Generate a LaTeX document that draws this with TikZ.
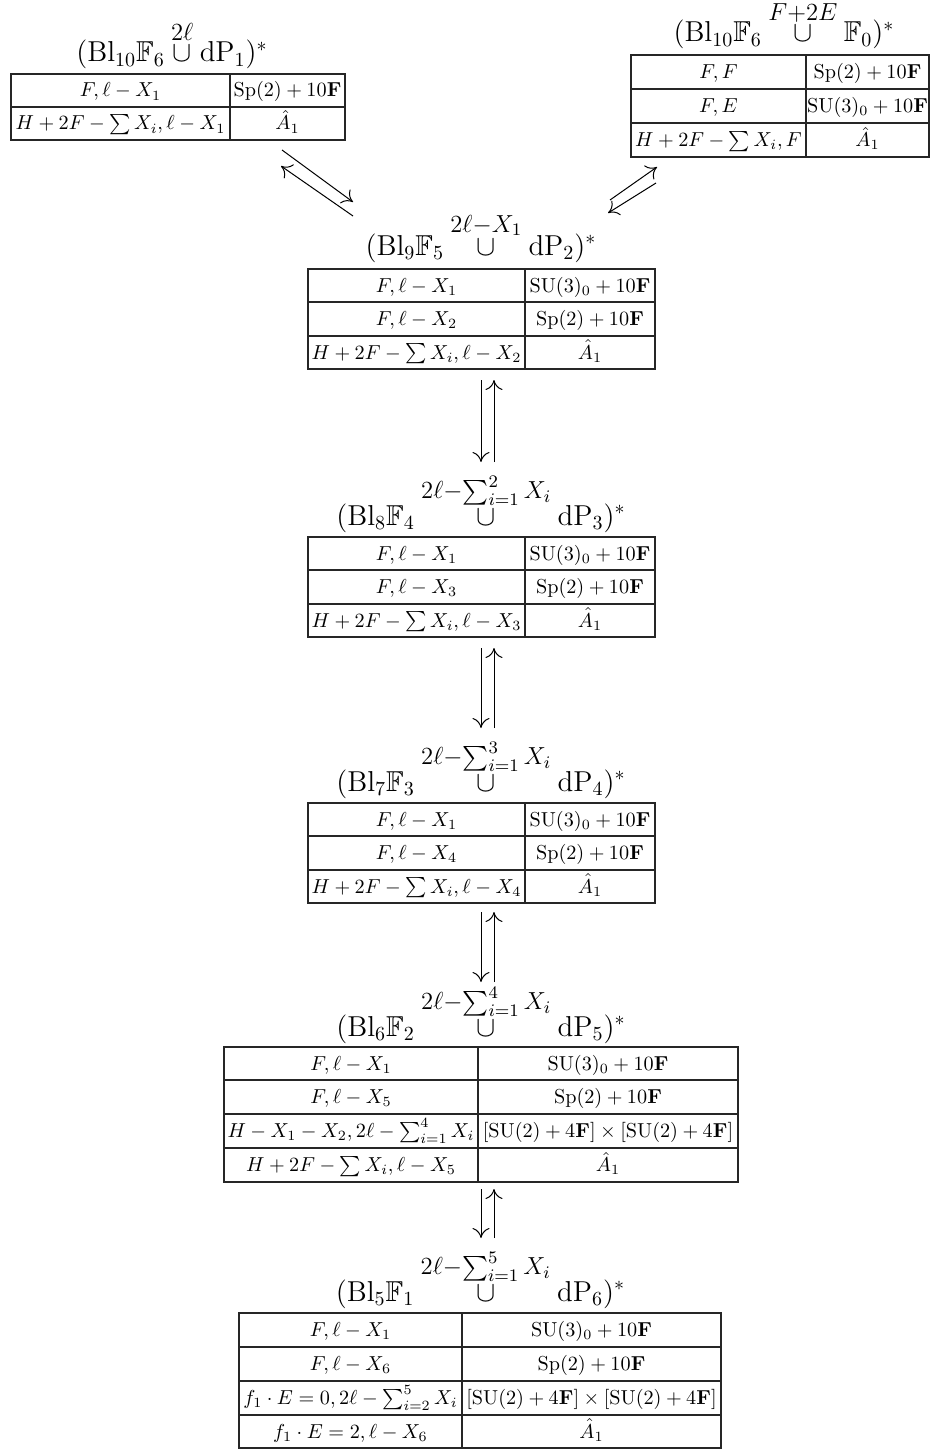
\RequirePackage{fix-cm}
\documentclass[tikz,border=0pt]{standalone}
\usepackage{amsmath,amssymb}
\usetikzlibrary{arrows.meta}
\tikzset{
  x=0.5pt, y=-0.5pt,
  grid/.style={line width=0.55pt, black!85},
  celltext/.style={anchor=base, inner sep=0pt, font=\fontsize{10.1}{12}\selectfont},
  titletext/.style={anchor=base, inner sep=0pt, font=\fontsize{14.4}{18}\selectfont},
  flow/.style={line width=0.5pt, -{Computer Modern Rightarrow[length=5pt,width=8.5pt]}},
}
\newcommand\Sp{\mathrm{Sp}(2)+10\mathbf{F}}
\newcommand\SUt{\mathrm{SU}(3)_0+10\mathbf{F}}
\newcommand\SUsq{[\mathrm{SU}(2)+4\mathbf{F}]\times[\mathrm{SU}(2)+4\mathbf{F}]}
\newcommand\Hsum{H+2F-\sum X_i}
\newcommand\ovl[1]{\mbox{\fontsize{17.6}{21}\selectfont$\scriptstyle #1$}}
\newcommand\glue[1]{\overset{\ovl{#1}}{\cup}}
\begin{document}
\begin{tikzpicture}
\useasboundingbox (0,0) rectangle (935,1450);

% ---------- table 1 ----------
\draw[grid] (11,74) rectangle (345,140) (11,107) -- (345,107) (230,74) -- (230,140);
\node[titletext] (ti1) at (172,62) {$(\mathrm{Bl}_{10}\mathbb{F}_6\glue{2\ell}\mathrm{dP}_1)^*$};
\node[celltext] (t1a) at (120.5,97) {$F,\ell-X_1$};
\node[celltext] (t1b) at (287.5,97) {$\Sp$};
\node[celltext] (t1c) at (120.5,130) {$\Hsum,\ell-X_1$};
\node[celltext] (t1d) at (287.5,130) {$\hat{A}_1$};

% ---------- table 2 ----------
\draw[grid] (631,55) rectangle (929,157) (631,89) -- (929,89) (631,123) -- (929,123) (806,55) -- (806,157);
\node[titletext] (ti2) at (784,42) {$(\mathrm{Bl}_{10}\mathbb{F}_6\glue{F+2E}\mathbb{F}_0)^*$};
\node[celltext] (t2a) at (718.5,78.5) {$F,F$};
\node[celltext] (t2b) at (867.5,78.5) {$\Sp$};
\node[celltext] (t2c) at (718.5,112.5) {$F,E$};
\node[celltext] (t2d) at (867.5,112.5) {$\SUt$};
\node[celltext] (t2e) at (718.5,146.5) {$\Hsum,F$};
\node[celltext] (t2f) at (867.5,146.5) {$\hat{A}_1$};

% ---------- table 3 ----------
\draw[grid] (308,269) rectangle (655,369) (308,302) -- (655,302) (308,336) -- (655,336) (525,269) -- (525,369);
\node[titletext] (ti3) at (481,255) {$(\mathrm{Bl}_{9}\mathbb{F}_5\glue{2\ell-X_1}\mathrm{dP}_2)^*$};
\node[celltext] (t3a) at (416.5,292) {$F,\ell-X_1$};
\node[celltext] (t3b) at (590,292) {$\SUt$};
\node[celltext] (t3c) at (416.5,325.5) {$F,\ell-X_2$};
\node[celltext] (t3d) at (590,325.5) {$\Sp$};
\node[celltext] (t3e) at (416.5,359) {$\Hsum,\ell-X_2$};
\node[celltext] (t3f) at (590,359) {$\hat{A}_1$};

% ---------- table 4 ----------
\draw[grid] (308,537) rectangle (655,637) (308,570) -- (655,570) (308,604) -- (655,604) (525,537) -- (525,637);
\node[titletext] (ti4) at (481,525) {$(\mathrm{Bl}_{8}\mathbb{F}_4\glue{2\ell-\sum_{i=1}^{2}X_i}\mathrm{dP}_3)^*$};
\node[celltext] (t4a) at (416.5,560) {$F,\ell-X_1$};
\node[celltext] (t4b) at (590,560) {$\SUt$};
\node[celltext] (t4c) at (416.5,593.5) {$F,\ell-X_3$};
\node[celltext] (t4d) at (590,593.5) {$\Sp$};
\node[celltext] (t4e) at (416.5,627) {$\Hsum,\ell-X_3$};
\node[celltext] (t4f) at (590,627) {$\hat{A}_1$};

% ---------- table 5 ----------
\draw[grid] (308,803) rectangle (655,903) (308,836) -- (655,836) (308,870) -- (655,870) (525,803) -- (525,903);
\node[titletext] (ti5) at (481,791) {$(\mathrm{Bl}_{7}\mathbb{F}_3\glue{2\ell-\sum_{i=1}^{3}X_i}\mathrm{dP}_4)^*$};
\node[celltext] (t5a) at (416.5,826) {$F,\ell-X_1$};
\node[celltext] (t5b) at (590,826) {$\SUt$};
\node[celltext] (t5c) at (416.5,859.5) {$F,\ell-X_4$};
\node[celltext] (t5d) at (590,859.5) {$\Sp$};
\node[celltext] (t5e) at (416.5,893) {$\Hsum,\ell-X_4$};
\node[celltext] (t5f) at (590,893) {$\hat{A}_1$};

% ---------- table 6 ----------
\draw[grid] (224,1047) rectangle (738,1182) (224,1080) -- (738,1080) (224,1114) -- (738,1114) (224,1148) -- (738,1148) (478,1047) -- (478,1182);
\node[titletext] (ti6) at (481,1036) {$(\mathrm{Bl}_{6}\mathbb{F}_2\glue{2\ell-\sum_{i=1}^{4}X_i}\mathrm{dP}_5)^*$};
\node[celltext] (t6a) at (351,1070) {$F,\ell-X_1$};
\node[celltext] (t6b) at (608,1070) {$\SUt$};
\node[celltext] (t6c) at (351,1103.5) {$F,\ell-X_5$};
\node[celltext] (t6d) at (608,1103.5) {$\Sp$};
\node[celltext] (t6e) at (351,1137.5) {$H-X_1-X_2,2\ell-\sum_{i=1}^{4}X_i$};
\node[celltext] (t6f) at (608,1137.5) {$\SUsq$};
\node[celltext] (t6g) at (351,1171.5) {$\Hsum,\ell-X_5$};
\node[celltext] (t6h) at (608,1171.5) {$\hat{A}_1$};

% ---------- table 7 ----------
\draw[grid] (239,1313) rectangle (721,1448) (239,1347) -- (721,1347) (239,1381) -- (721,1381) (239,1415) -- (721,1415) (462,1313) -- (462,1448);
\node[titletext] (ti7) at (480.5,1301) {$(\mathrm{Bl}_{5}\mathbb{F}_1\glue{2\ell-\sum_{i=1}^{5}X_i}\mathrm{dP}_6)^*$};
\node[celltext] (t7a) at (350.5,1336.5) {$F,\ell-X_1$};
\node[celltext] (t7b) at (591.5,1336.5) {$\SUt$};
\node[celltext] (t7c) at (350.5,1370.5) {$F,\ell-X_6$};
\node[celltext] (t7d) at (591.5,1370.5) {$\Sp$};
\node[celltext] (t7e) at (350.5,1404.5) {$f_1\cdot E=0,2\ell-\sum_{i=2}^{5}X_i$};
\node[celltext] (t7f) at (591.5,1404.5) {$\SUsq$};
\node[celltext] (t7g) at (350.5,1438) {$f_1\cdot E=2,\ell-X_6$};
\node[celltext] (t7h) at (591.5,1438) {$\hat{A}_1$};

% ---------- arrows ----------
\coordinate (a1s) at (282,150); \coordinate (a1e) at (353,202);
\coordinate (a1s') at (353,216); \coordinate (a1e') at (281,166);
\draw[flow] (a1s) -- (a1e);
\draw[flow] (a1s') -- (a1e');

\coordinate (a2s) at (610,200); \coordinate (a2e) at (657,167);
\coordinate (a2s') at (656,183); \coordinate (a2e') at (608,213);
\draw[flow] (a2s) -- (a2e);
\draw[flow] (a2s') -- (a2e');

\foreach \n/\ya/\yb in {v1/380/462, v2/648/728, v3/912/982, v4/1189/1238}{
  \coordinate (\n l1) at (481,\ya); \coordinate (\n l2) at (481,\yb);
  \coordinate (\n r1) at (494,\yb); \coordinate (\n r2) at (494,\ya);
  \draw[flow] (\n l1) -- (\n l2);
  \draw[flow] (\n r1) -- (\n r2);
}
\end{tikzpicture}
\end{document}
